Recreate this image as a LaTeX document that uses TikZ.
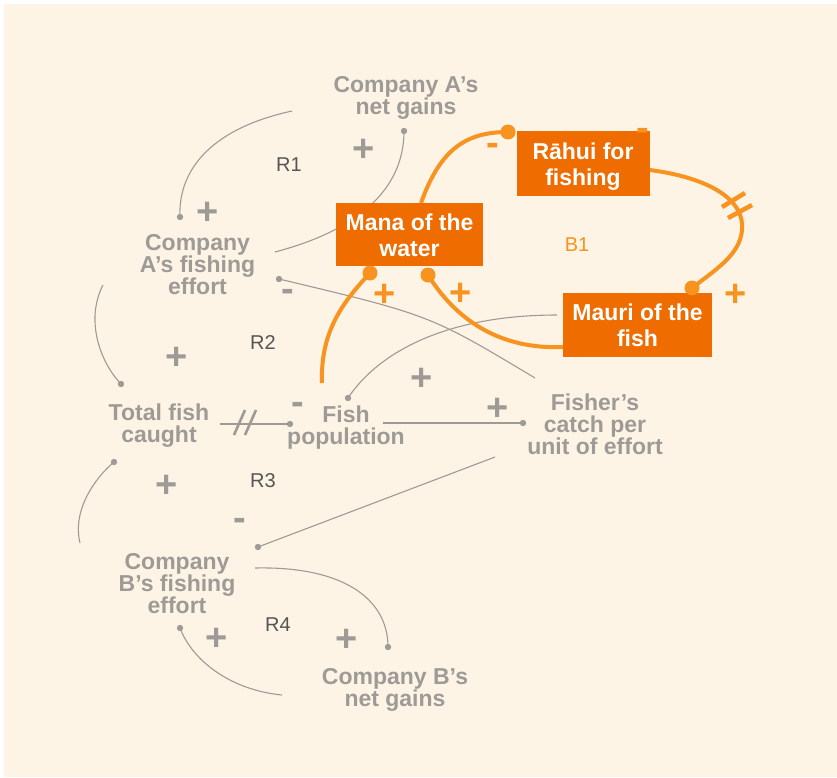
\documentclass[tikz,border=0pt]{standalone}
\usepackage{fontspec}
\setmainfont{Liberation Sans}
\definecolor{bg}{HTML}{FEF4E6}
\definecolor{ink}{HTML}{9E9A96}
\definecolor{boxor}{HTML}{EE6C00}
\definecolor{lineor}{HTML}{F7931E}
\definecolor{rlab}{HTML}{555555}
\begin{document}
\begin{tikzpicture}[x=1pt,y=-1pt,
  var/.style={text=ink, font=\fontsize{23}{22}\selectfont\bfseries, align=center, inner sep=0pt},
  boxfill/.style={fill=boxor, inner sep=0pt},
  boxtext/.style={text=white, font=\fontsize{23}{26}\selectfont\bfseries, align=center, inner sep=0pt},
  loopname/.style={text=rlab, font=\fontsize{20}{20}\selectfont, inner sep=0pt},
  link/.style={draw=ink, line width=1.1pt},
  olink/.style={draw=lineor, line width=4pt},
  gdot/.style={fill=ink},
  odot/.style={fill=lineor},
  signfont/.style={font=\fontsize{38}{38}\selectfont\bfseries, anchor=base, inner sep=0pt},
  plus/.style={signfont, yshift=-13.3pt},
  minus/.style={signfont, yshift=-9.5pt},
]
\useasboundingbox (0,0) rectangle (837,778);
\fill[white] (0,0) rectangle (837,778);
\fill[bg] (4,4) rectangle (837,777);

% ---- variables ----
\node[var] (netA)   at (406,98)    {Company A’s\\net gains};
\node[var] (effA)   at (197.5,265) {Company\\A’s fishing\\effort};
\node[var] (total)  at (159,425.5) {Total fish\\caught};
\node[var] (fish)   at (346,428)   {Fish\\population};
\node[var] (catch)  at (595,424.5) {Fisher’s\\catch per\\unit of effort};
\node[var] (effB)   at (177,583.5) {Company\\B’s fishing\\effort};
\node[var] (netB)   at (395,689.5) {Company B’s\\net gains};

% ---- connector end points ----
\coordinate (netA-o)  at (292,111);  \coordinate (effA-i1) at (180,217);
\coordinate (effA-o1) at (275,252);  \coordinate (netA-i)  at (404,131);
\coordinate (catch-o1) at (535,378); \coordinate (effA-i2) at (279,279);
\coordinate (effA-o2) at (103,285);  \coordinate (total-i1) at (121,384);
\coordinate (total-o) at (220,424);  \coordinate (fish-i1) at (290,424);
\coordinate (fish-o)  at (383,423);  \coordinate (catch-i) at (523,423);
\coordinate (catch-o2) at (495,457); \coordinate (effB-i1) at (258,547);
\coordinate (effB-o1) at (80,543);   \coordinate (total-i2) at (114,462);
\coordinate (effB-o2) at (255,568);  \coordinate (netB-i)  at (388,647);
\coordinate (netB-o)  at (282,695);  \coordinate (effB-i2) at (180,628);
\coordinate (mauri-o1) at (557,315); \coordinate (fish-i2) at (348,398);

\coordinate (mana-o)  at (421,203);  \coordinate (rahui-i) at (508,132);
\coordinate (rahui-o) at (650,170);  \coordinate (mauri-i) at (692,288);
\coordinate (mauri-o2) at (563,347); \coordinate (mana-i1) at (428,275);
\coordinate (fish-o2) at (322,383);  \coordinate (mana-i2) at (370,273);

% ---- grey causal links ----
\draw[link] (netA-o) .. controls (205,130) and (178,175) .. (effA-i1);
\draw[link] (effA-o1) .. controls (340,235) and (404,200) .. (netA-i);
\draw[link] (catch-o1) .. controls (430,315) .. (effA-i2);
\draw[link] (effA-o2) .. controls (85,320) and (100,362) .. (total-i1);
\draw[link] (total-o) -- (fish-i1);
\draw[link] (fish-o) -- (catch-i);
\draw[link] (catch-o2) -- (effB-i1);
\draw[link] (effB-o1) .. controls (72,510) and (95,478) .. (total-i2);
\draw[link] (effB-o2) .. controls (345,566) and (388,600) .. (netB-i);
\draw[link] (netB-o) .. controls (230,690) and (192,660) .. (effB-i2);
\draw[link] (mauri-o1) .. controls (450,315) and (380,350) .. (fish-i2);
\foreach \p in {effA-i1,netA-i,effA-i2,total-i1,fish-i1,catch-i,effB-i1,total-i2,netB-i,effB-i2,fish-i2}
  \fill[gdot] (\p) circle (3.2pt);
% delay mark
\draw[ink, line width=2.6pt] (234,435) -- (245,410) (245,435) -- (256,410);

% ---- orange links ----
\draw[olink] (mana-o) .. controls (440,150) and (465,132) .. (rahui-i);
\draw[olink] (rahui-o) .. controls (710,178) and (745,200) .. (742,230)
             .. controls (740,255) and (715,270) .. (mauri-i);
\draw[olink] (mauri-o2) .. controls (490,350) and (450,310) .. (mana-i1);
\draw[olink] (fish-o2) .. controls (320,330) and (345,300) .. (mana-i2);
\draw[lineor, line width=4.5pt] (722,207) -- (745,193) (728,218) -- (752,205);

% ---- orange boxes ----
\node[boxfill, minimum width=147pt, minimum height=63pt] (mana)  at (409.5,234.5) {};
\node[boxfill, minimum width=133pt, minimum height=65pt] (rahui) at (583.5,163.5) {};
\node[boxfill, minimum width=149pt, minimum height=64pt] (mauri) at (637.5,325)   {};
\node[boxtext] (manaT)  at (409.5,235) {Mana of the\\water};
\node[boxtext] (rahuiT) at (583,167)   {Rāhui for\\fishing};
\node[boxtext] (mauriT) at (637.5,325) {Mauri of the\\fish};
\foreach \p in {rahui-i,mauri-i,mana-i1,mana-i2}
  \fill[odot] (\p) circle (7.5pt);

% ---- loop labels ----
\node[loopname] (R1) at (289,165) {R1};
\node[loopname] (R2) at (263,343) {R2};
\node[loopname] (R3) at (263,481) {R3};
\node[loopname] (R4) at (278,625) {R4};
\node[loopname, text=lineor] (B1) at (577,245) {B1};

% ---- polarity signs ----
\begin{scope}[text=ink]
\node[plus]  at (364,148) {+};
\node[plus]  at (208,211) {+};
\node[minus] at (288,292) {-};
\node[plus]  at (177,356) {+};
\node[minus] at (298,405) {-};
\node[plus]  at (422,377) {+};
\node[plus]  at (498,407) {+};
\node[plus]  at (167,484) {+};
\node[minus] at (240,521) {-};
\node[plus]  at (217,637) {+};
\node[plus]  at (347,638) {+};
\end{scope}
\begin{scope}[text=lineor]
\node[minus] at (493,146) {-};
\node[minus] at (643,131) {-};
\node[plus]  at (385,293) {+};
\node[plus]  at (461,292) {+};
\node[plus]  at (736,293) {+};
\end{scope}
\end{tikzpicture}
\end{document}
